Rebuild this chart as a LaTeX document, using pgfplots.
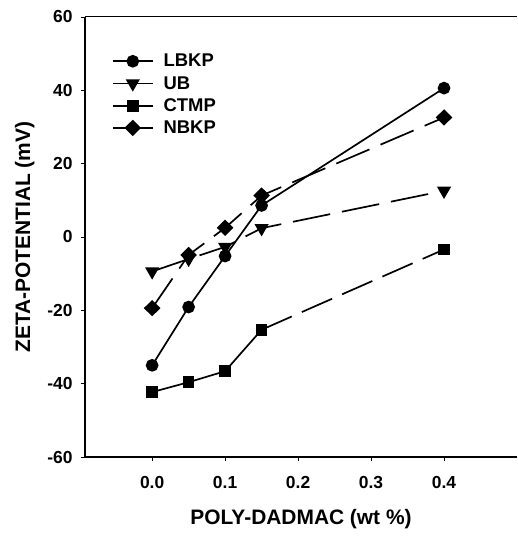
\documentclass[border=0pt]{standalone}
\usepackage{fontspec}
\setmainfont{Liberation Sans}
\usepackage{pgfplots}
\pgfplotsset{compat=1.18}
\begin{document}
\begin{tikzpicture}[x=1bp,y=1bp]
\begin{axis}[
  at={(0,0)}, anchor=south west,
  scale only axis, width=432bp, height=440bp,
  xmin=-0.092, xmax=0.5, ymin=-60, ymax=60,
  axis x line*=bottom, axis y line*=left,
  axis line style={line width=1.2pt, -},
  xtick={0,0.1,0.2,0.3,0.4}, ytick={-60,-40,-20,0,20,40,60},
  xticklabels={0.0,0.1,0.2,0.3,0.4},
  tick align=outside, major tick length=4bp,
  tick style={line width=0.9pt, black},
  tick label style={font=\fontsize{17.5}{19}\selectfont\bfseries},
  /pgf/number format/assume math mode=true,
  xticklabel style={yshift=-12bp},
  yticklabel style={xshift=-5bp},
  xlabel={\fontsize{21}{23}\selectfont\bfseries POLY-DADMAC (wt \%)},
  ylabel={\fontsize{21}{23}\selectfont\bfseries ZETA-POTENTIAL (mV)},
  xlabel style={yshift=-14bp},
  ylabel style={yshift=6bp},
  legend style={draw=none, fill=none, at={(0.055,0.925)}, anchor=north west,
    font=\fontsize{18.5}{20}\selectfont\bfseries, row sep=4bp,
    /tikz/column 1/.style={column sep=8bp}},
  legend cell align=left,
  legend image code/.code={\draw[mark repeat=2,mark phase=2,#1,solid] plot coordinates {(0bp,0bp) (20bp,0bp) (40bp,0bp)};},
  every axis plot/.append style={line width=1.7pt, black},
]
\addplot[mark=*, mark size=5.5bp, solid] coordinates {
 (0,-35) (0.05,-19.1) (0.1,-5.2) (0.15,8.6) (0.4,40.6)};
\addlegendentry{LBKP}
\addplot[mark=triangle*, mark size=6.5bp, mark options={rotate=180, solid}, dash pattern=on 38bp off 12bp] coordinates {
 (0,-9.4) (0.05,-6) (0.1,-2.7) (0.15,2.4) (0.4,12.6)};
\addlegendentry{UB}
\addplot[mark=square*, mark size=5bp, mark options={solid}, dash pattern=on 33bp off 11bp] coordinates {
 (0.15,-25.3) (0.4,-3.4)};
\addlegendentry{CTMP}
\addplot[mark=diamond*, mark size=7bp, mark options={solid, xscale=1.35}, dash pattern=on 36bp off 12bp] coordinates {
 (0,-19.4) (0.05,-4.9) (0.1,2.5) (0.15,11.3) (0.4,32.6)};
\addlegendentry{NBKP}
\addplot[mark=square*, mark size=5bp, solid, forget plot] coordinates {
 (0,-42.3) (0.05,-39.6) (0.1,-36.6) (0.15,-25.3)};
\draw[line width=1pt] (rel axis cs:0,1) -- (rel axis cs:1,1);
\end{axis}
\path[use as bounding box] (-85bp,-79bp) rectangle (429bp,457bp);
\end{tikzpicture}
\end{document}
